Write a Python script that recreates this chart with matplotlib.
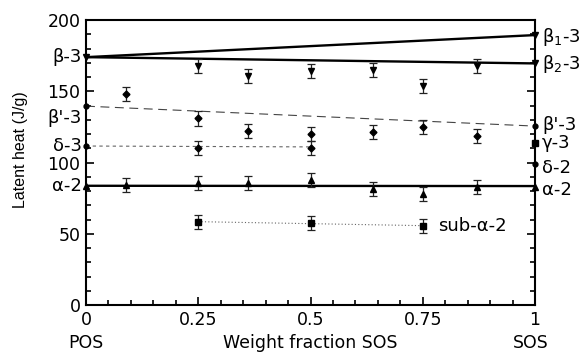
import matplotlib.pyplot as plt
from matplotlib.ticker import MultipleLocator

plt.rcParams['font.family'] = ['DejaVu Sans']
plt.rcParams['mathtext.fontset'] = 'dejavusans'

# measured points (weight fraction SOS, latent heat J/g, error)
beta_x = [0.25, 0.36, 0.5, 0.64, 0.75, 0.87]
beta_y = [167.7, 160.7, 164.4, 164.9, 153.9, 168.0]
beta_err = [5, 5, 5, 5, 5, 5]

betap_x = [0.09, 0.25, 0.36, 0.5, 0.64, 0.75, 0.87]
betap_y = [148.0, 131.0, 122.0, 120.0, 121.2, 125.1, 118.6]
betap_err = [5, 5, 5, 5, 5, 5, 5]

delta3_x = [0.25, 0.5]
delta3_y = [110.4, 110.2]
delta3_err = [5, 5]

alpha_x = [0.09, 0.25, 0.36, 0.5, 0.64, 0.75, 0.87]
alpha_y = [84.2, 85.4, 85.4, 87.7, 81.4, 77.9, 82.6]
alpha_err = [5, 5, 5, 5, 5, 5, 5]

suba_x = [0.25, 0.5, 0.75]
suba_y = [58.5, 57.3, 55.7]
suba_err = [5, 5, 5]

# pure-component values on the left (POS) and right (SOS) axes
pos_beta, pos_betap, pos_delta, pos_alpha = 174.0, 139.6, 111.6, 83.7
sos_beta1, sos_beta2, sos_betap, sos_gamma, sos_delta2, sos_alpha = 189.5, 169.6, 125.6, 113.5, 98.7, 82.5

# trend lines (endpoints)
beta1_line = ([0, 1], [pos_beta, sos_beta1])
beta2_line = ([0, 1], [pos_beta, sos_beta2])
betap_line = ([0, 1], [pos_betap, sos_betap])
delta3_line = ([0, 0.5], [pos_delta, 111.0])
alpha_line = ([0, 1], [pos_alpha, 83.5])
suba_line = ([0.25, 0.75], [58.5, 55.7])

fig = plt.figure(figsize=(5.86, 3.53), dpi=100)
ax = fig.add_axes([0.1468, 0.136, 0.7662, 0.807])

ax.plot(*beta1_line, color='black', lw=1.7)
ax.plot(*beta2_line, color='black', lw=1.7)
ax.plot(*alpha_line, color='black', lw=1.7)
ax.plot(*betap_line, color='#444444', lw=0.8, dashes=(8, 5))
ax.plot(*delta3_line, color='#666666', lw=0.8, dashes=(3, 3))
ax.plot(*suba_line, color='#666666', lw=0.8, dashes=(1, 2))

eb = dict(color='black', ecolor='#222222', elinewidth=0.9, capsize=3, capthick=0.9, ls='none')
ax.errorbar(beta_x, beta_y, yerr=beta_err, marker='v', ms=5, **eb)
ax.errorbar(betap_x, betap_y, yerr=betap_err, marker='D', ms=3.5, **eb)
ax.errorbar(delta3_x, delta3_y, yerr=delta3_err, marker='D', ms=3.5, **eb)
ax.errorbar(alpha_x, alpha_y, yerr=alpha_err, marker='^', ms=5, **eb)
ax.errorbar(suba_x, suba_y, yerr=suba_err, marker='s', ms=5, **eb)

# edge markers on the spines
ax.plot([0], [pos_beta], 'v', color='black', ms=4, clip_on=False)
ax.plot([0, 0], [pos_betap, pos_delta], 'o', color='black', ms=3.5, clip_on=False)
ax.plot([0], [pos_alpha], '^', color='black', ms=4, clip_on=False)
ax.plot([1, 1], [sos_beta1, sos_beta2], 'v', color='black', ms=4, clip_on=False)
ax.plot([1, 1], [sos_betap, sos_delta2], 'o', color='black', ms=3.5, clip_on=False)
ax.plot([1], [sos_gamma], 's', color='black', ms=5, clip_on=False)
ax.plot([1], [sos_alpha], '^', color='black', ms=4, clip_on=False)

ax.set_xlim(0, 1)
ax.set_ylim(0, 200)
ax.set_xticks([0, 0.25, 0.5, 0.75, 1])
ax.set_xticklabels(['0', '0.25', '0.5', '0.75', '1'])
ax.set_yticks([0, 50, 100, 150, 200])
ax.xaxis.set_minor_locator(MultipleLocator(0.05))
ax.yaxis.set_minor_locator(MultipleLocator(10))
ax.tick_params(which='both', direction='in', labelsize=12.5, right=True, top=False, width=1.2)
ax.tick_params(which='major', length=6, pad=4)
ax.tick_params(which='minor', length=3.5)
for s in ax.spines.values():
    s.set_linewidth(1.5)

ax.text(-0.147, 0.546, 'Latent heat (J/g)', transform=ax.transAxes, rotation=90,
        ha='center', va='center', fontsize=11.5, family='Liberation Sans')
ax.text(0.5, -0.151, 'Weight fraction SOS', transform=ax.transAxes, ha='center',
        va='baseline', fontsize=12.5)
ax.text(0, -0.151, 'POS', transform=ax.transAxes, ha='center', va='baseline', fontsize=12.5)
ax.text(0.99, -0.151, 'SOS', transform=ax.transAxes, ha='center', va='baseline', fontsize=12.5)

left_labels = [(pos_beta, 'β-3'), (131.0, "β'-3"), (pos_delta, 'δ-3'), (pos_alpha, 'α-2')]
for v, t in left_labels:
    ax.text(-0.009, v, t, ha='right', va='center', fontsize=13, clip_on=False)

right_labels = [(188.5, 'β$_1$-3'), (169.0, 'β$_2$-3'), (126.3, "β'-3"), (113.7, 'γ-3'),
                (96.0, 'δ-2'), (80.7, 'α-2')]
for v, t in right_labels:
    ax.text(1.016, v, t, ha='left', va='center', fontsize=13, clip_on=False)
ax.text(0.785, 55.7, 'sub-α-2', ha='left', va='center', fontsize=13)

fig.savefig('out.png', dpi=100)
